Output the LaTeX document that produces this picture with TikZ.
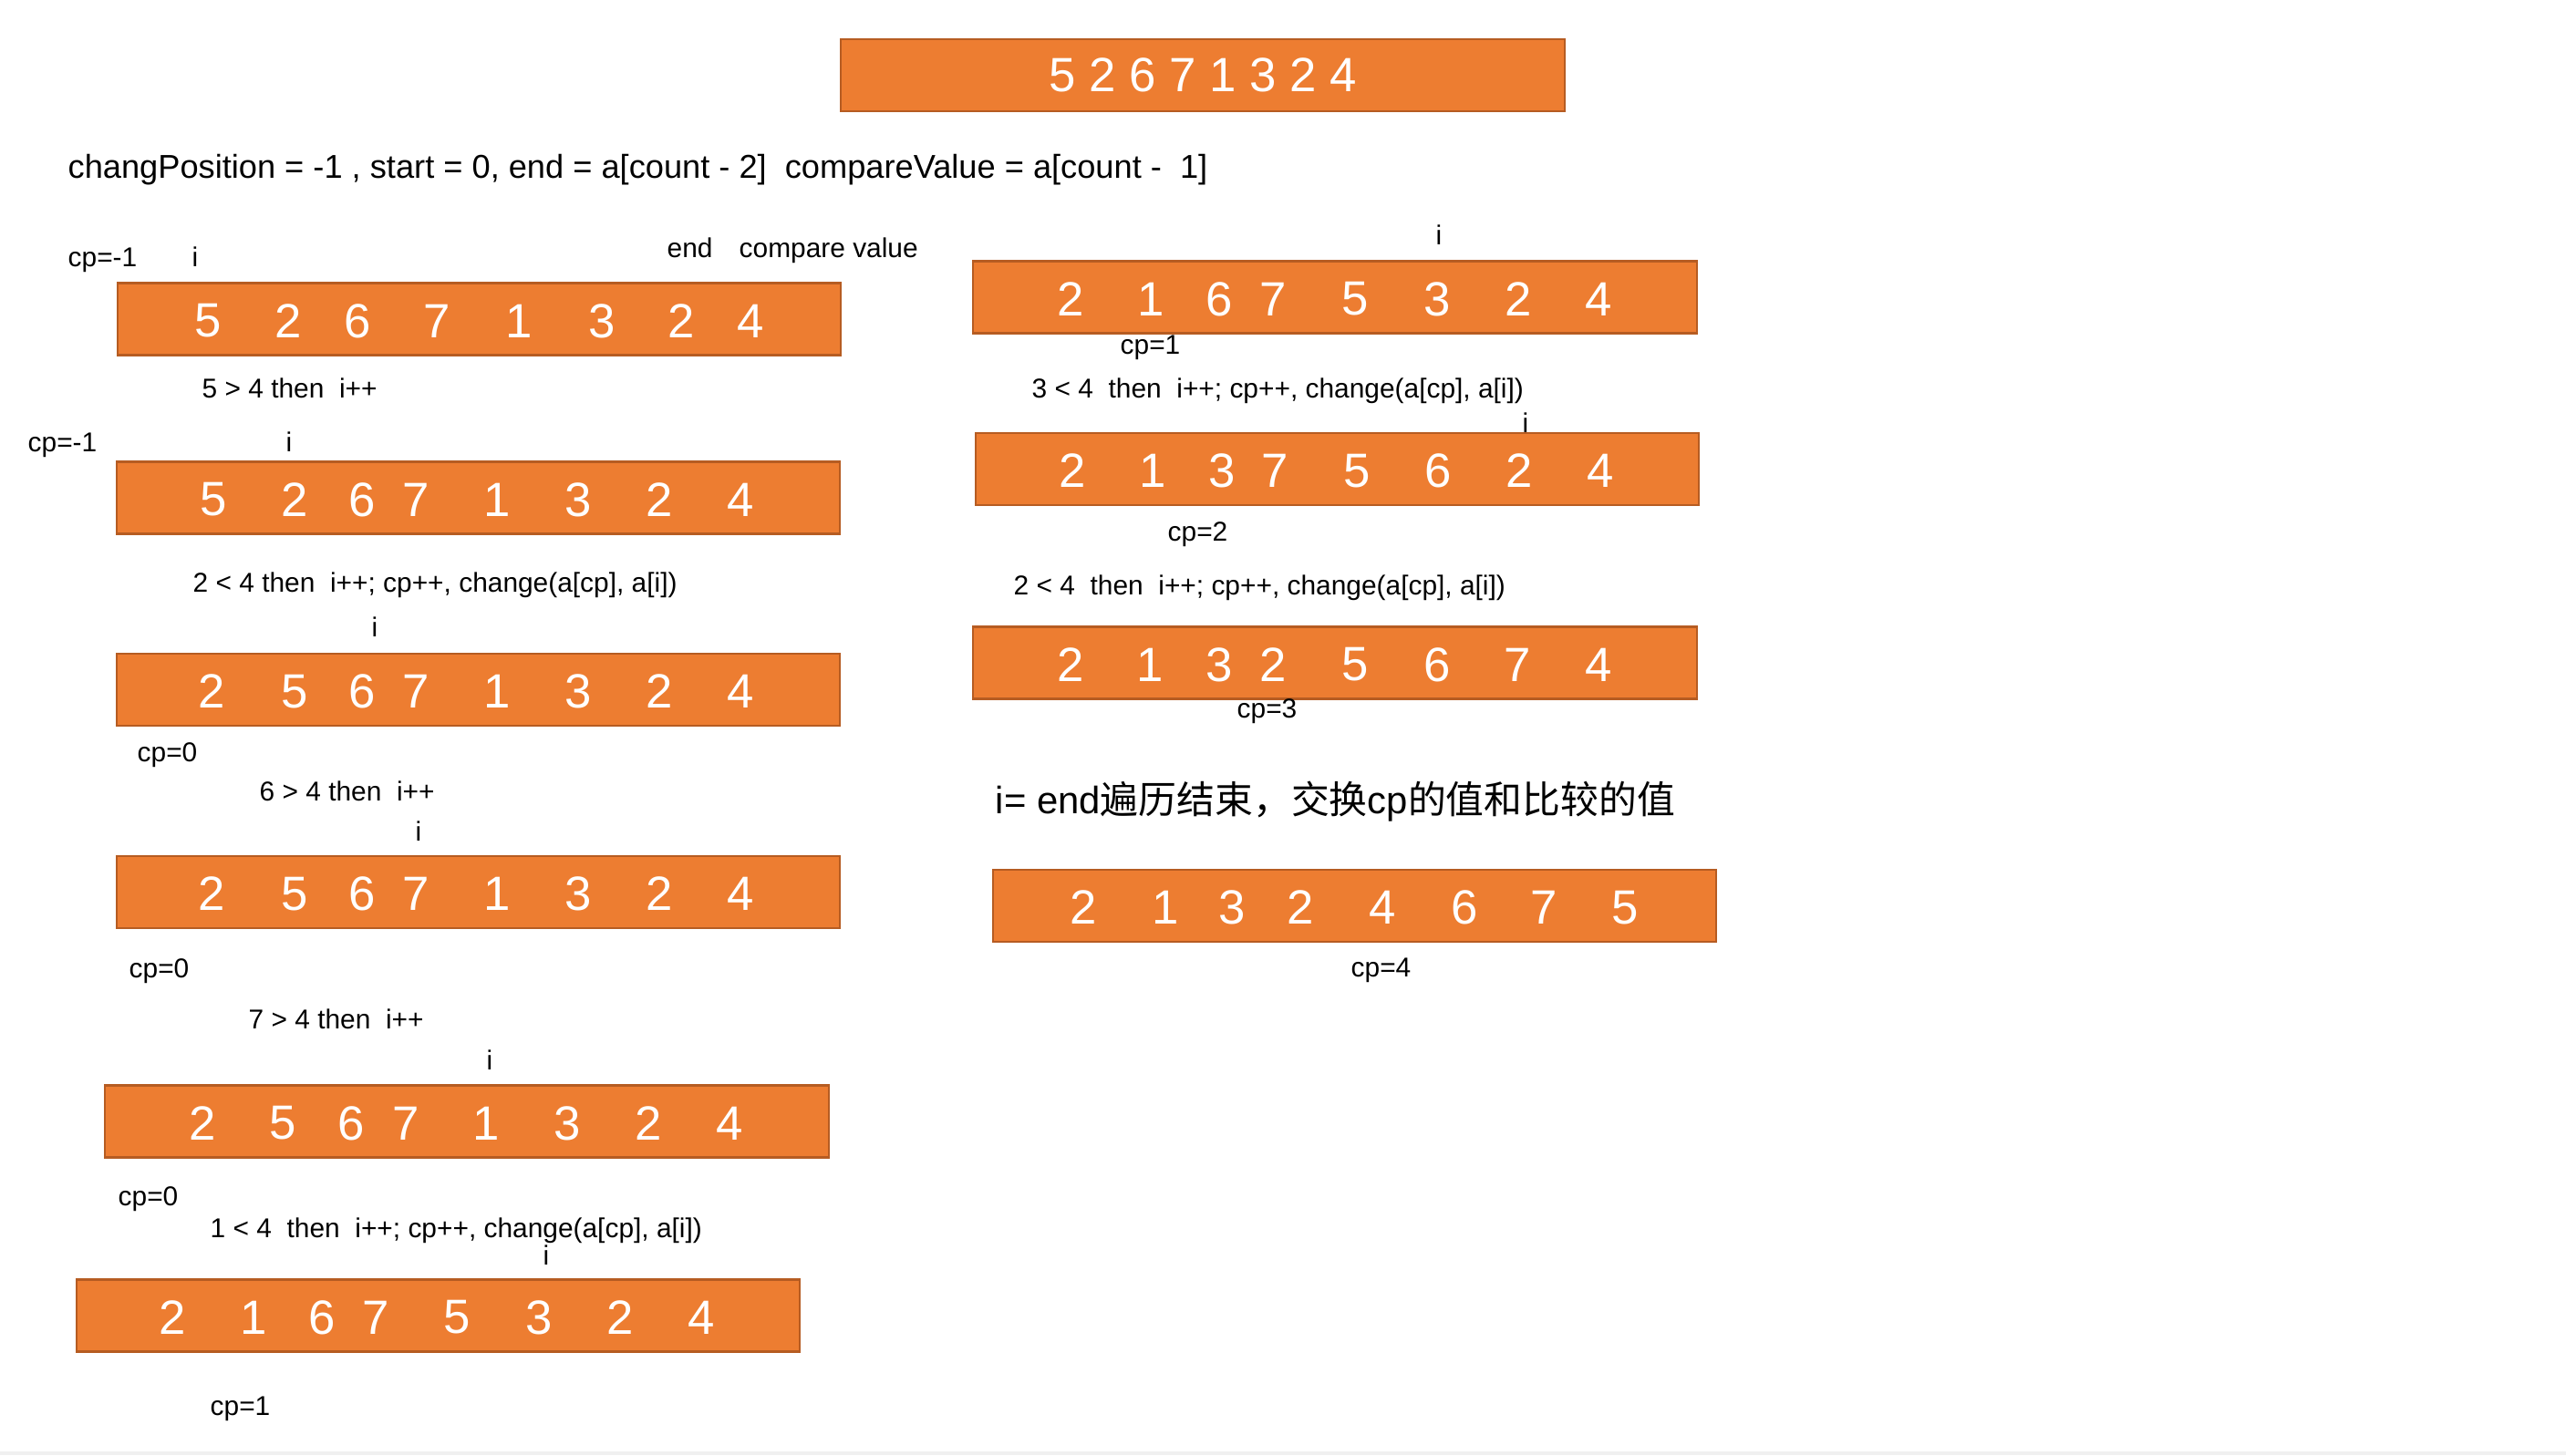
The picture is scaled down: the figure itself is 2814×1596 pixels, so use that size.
\documentclass[tikz,border=0pt]{standalone}
\usepackage{fontspec}
\setmainfont{Liberation Sans}
\newfontfamily\cjk{Noto Sans CJK SC}
\usepackage{tikz}
\usetikzlibrary{positioning}
\usepackage{xcolor}
\definecolor{cellfill}{HTML}{ED7D31}
\definecolor{celledge}{HTML}{B65C22}

\begin{document}
\begin{tikzpicture}[
    x=0.01cm, y=-0.01cm,
    arr box/.style={draw=celledge, fill=cellfill, line width=0.6pt, inner sep=0pt,
        minimum width=7.93cm, minimum height=0.79cm, text=white,
        font=\fontsize{15}{18}\selectfont},
    digit/.style={inner sep=0pt, text=white, font=\fontsize{15}{18}\selectfont},
    note/.style={anchor=base west, inner sep=0pt, font=\fontsize{8.5}{10}\selectfont},
    pointer/.style={anchor=base, inner sep=0pt, font=\fontsize{8.5}{10}\selectfont}
]
    \useasboundingbox (0,0) rectangle (2814,1596);
    \fill[gray!12] (0,1592) rectangle (2814,1596);

    % Header
    \node[arr box] (top) at (1319,82.5) {5 2 6 7 1 3 2 4};
    \node[note, font=\fontsize{10.3}{12}\selectfont] (setup) at (74,195)
        {changPosition = -1 , start = 0, end = a[count - 2]\ \ compareValue = a[count -\ \ 1]};

    % Left column
    \node[note] (cp1) at (74,292) {cp=-1};
    \node[pointer] (i1) at (214,292) {i};
    \node[note] (endlbl) at (731,282) {end};
    \node[note] (cmplbl) at (810,282) {compare value};
    \node[arr box] (b1) at (525.5,350) {};
    \foreach \x/\v [count=\k] in {228/5, 316/2, 392/6, 479/7, 569/1, 660/3, 747/2, 823/4}
        \node[digit] (b1-\k) at (\x,352) {\v};
    \node[note] (s1) at (221,436) {5 > 4 then\ \ i++};

    \node[note] (cp2) at (30,495) {cp=-1};
    \node[pointer] (i2) at (317,495) {i};
    \node[arr box] (b2) at (524.5,546) {};
    \foreach \x/\v [count=\k] in {234/5, 323/2, 397/6, 456/7, 545/1, 634/3, 723/2, 812/4}
        \node[digit] (b2-\k) at (\x,548) {\v};
    \node[note] (s2) at (211,649) {2 < 4 then\ \ i++; cp++, change(a[cp], a[i])};

    \node[pointer] (i3) at (411,698) {i};
    \node[arr box] (b3) at (524.5,756.5) {};
    \foreach \x/\v [count=\k] in {232/2, 323/5, 397/6, 456/7, 545/1, 634/3, 723/2, 812/4}
        \node[digit] (b3-\k) at (\x,758.5) {\v};
    \node[note] (cp3) at (150,835) {cp=0};
    \node[note] (s3) at (284,878) {6 > 4 then\ \ i++};

    \node[pointer] (i4) at (459,922) {i};
    \node[arr box] (b4) at (524.5,978.5) {};
    \foreach \x/\v [count=\k] in {232/2, 323/5, 397/6, 456/7, 545/1, 634/3, 723/2, 812/4}
        \node[digit] (b4-\k) at (\x,980.5) {\v};
    \node[note] (cp4) at (141,1072) {cp=0};
    \node[note] (s4) at (272,1128) {7 > 4 then\ \ i++};

    \node[pointer] (i5) at (537,1173) {i};
    \node[arr box] (b5) at (512,1230) {};
    \foreach \x/\v [count=\k] in {222/2, 310/5, 385/6, 445/7, 533/1, 622/3, 711/2, 800/4}
        \node[digit] (b5-\k) at (\x,1232) {\v};
    \node[note] (cp5) at (129,1322) {cp=0};
    \node[note] (s5) at (230,1357) {1 < 4\ \ then\ \ i++; cp++, change(a[cp], a[i])};

    \node[pointer] (i6) at (599,1387) {i};
    \node[arr box] (b6) at (480.5,1443) {};
    \foreach \x/\v [count=\k] in {189/2, 278/1, 353/6, 412/7, 501/5, 591/3, 680/2, 769/4}
        \node[digit] (b6-\k) at (\x,1445) {\v};
    \node[note] (cp6) at (230,1552) {cp=1};

    % Right column
    \node[pointer] (i7) at (1578,268) {i};
    \node[arr box] (r1) at (1464,326) {};
    \foreach \x/\v [count=\k] in {1174/2, 1262/1, 1337/6, 1396/7, 1486/5, 1576/3, 1665/2, 1753/4}
        \node[digit] (r1-\k) at (\x,328) {\v};
    \node[note] (cp7) at (1228,388) {cp=1};
    \node[note] (s7) at (1131,436) {3 < 4\ \ then\ \ i++; cp++, change(a[cp], a[i])};

    \node[pointer] (i8) at (1673,474) {i};
    \node[arr box] (r2) at (1466.5,514.5) {};
    \foreach \x/\v [count=\k] in {1176/2, 1264/1, 1340/3, 1398/7, 1488/5, 1577/6, 1666/2, 1755/4}
        \node[digit] (r2-\k) at (\x,516.5) {\v};
    \node[note] (cp8) at (1280,593) {cp=2};
    \node[note] (s8) at (1111,652) {2 < 4\ \ then\ \ i++; cp++, change(a[cp], a[i])};

    \node[arr box] (r3) at (1464,727) {};
    \foreach \x/\v [count=\k] in {1174/2, 1261/1, 1337/3, 1396/2, 1486/5, 1576/6, 1664/7, 1753/4}
        \node[digit] (r3-\k) at (\x,729) {\v};
    \node[note] (cp9) at (1356,787) {cp=3};

    \node[note, font=\fontsize{11.9}{14}\selectfont] (finish) at (1091,892)
        {i= end{\cjk 遍历结束，交换}cp{\cjk 的值和比较的值}};
    \node[arr box] (r4) at (1485.5,993.5) {};
    \foreach \x/\v [count=\k] in {1188/2, 1278/1, 1351/3, 1426/2, 1516/4, 1606/6, 1693/7, 1782/5}
        \node[digit] (r4-\k) at (\x,995.5) {\v};
    \node[note] (cp10) at (1481,1071) {cp=4};
\end{tikzpicture}
\end{document}
